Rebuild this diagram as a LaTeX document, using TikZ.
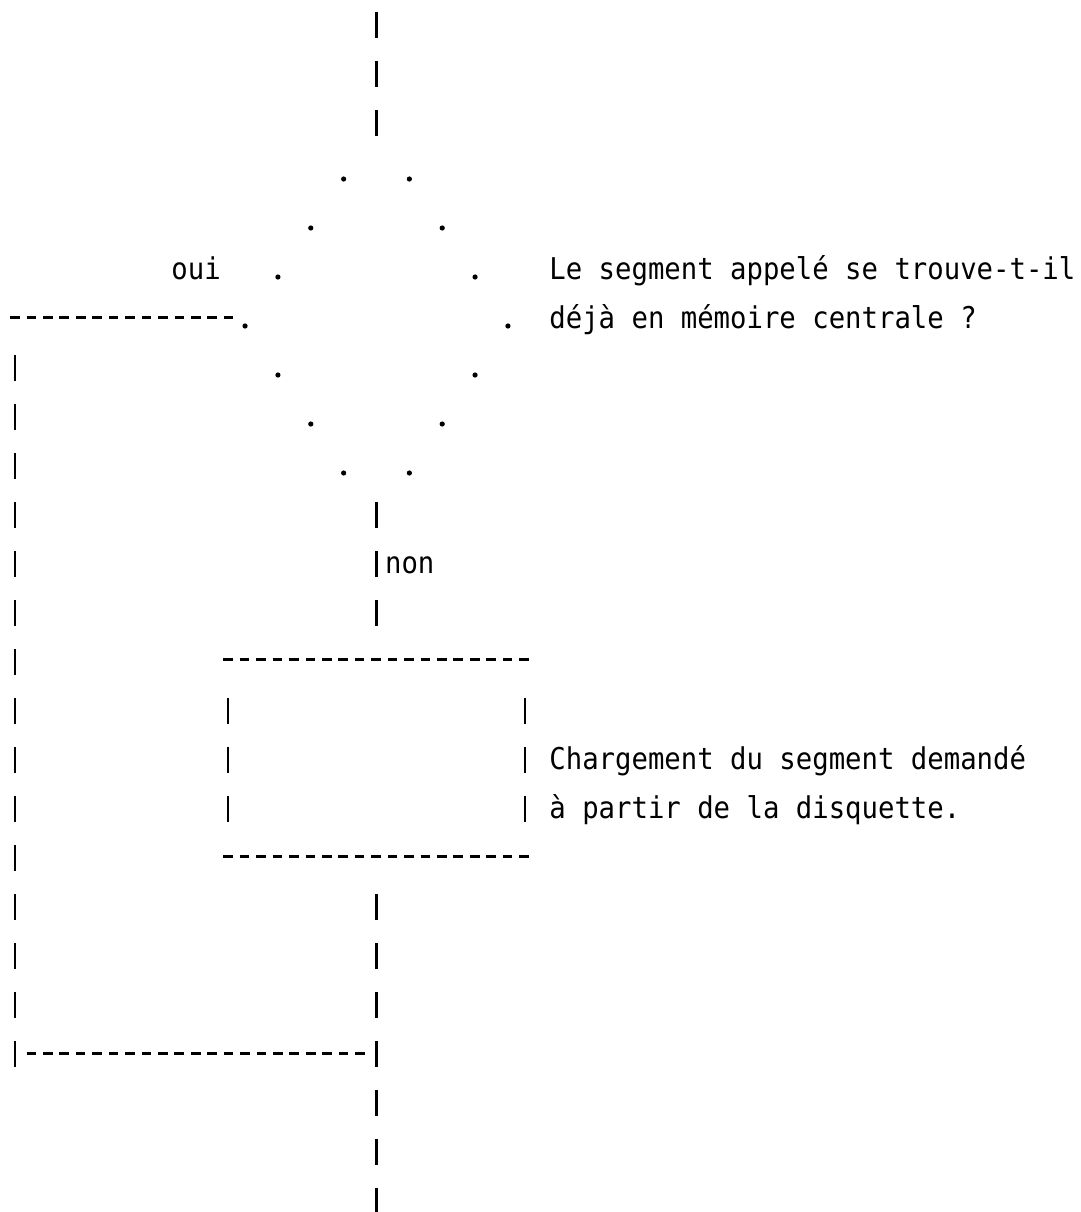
\documentclass[tikz,border=0pt]{standalone}
\usepackage{fontspec}
\newfontfamily\typew[FakeStretch=0.91]{DejaVu Sans Mono}
\usetikzlibrary{calc}

\begin{document}
\begin{tikzpicture}[x=0.5pt,y=-0.5pt]
	% `vbar' is a column of typed |, `hrule' a row of typed -.
	% `tdot' is one typed full stop of the decision outline.
	\tikzstyle{vbar} = [line width=1.1pt,dash pattern=on 13pt off 11.5pt]
	\tikzstyle{hrule} = [line width=1.5pt,dash pattern=on 4.8pt off 3.415pt,dash phase=-0.35pt]
	\tikzstyle{tdot} = [fill,shape=circle,minimum size=2.6pt,inner sep=0pt]
	\tikzstyle{typed} = [font={\typew\fontsize{15}{18}\selectfont},anchor=base west,inner sep=0pt]
	\useasboundingbox (0,0) rectangle (1081,1212);
	%
	% Decision, drawn as typed dots.
	\foreach \dx/\r in {2/3,4/4,6/5,8/6,6/7,4/8,2/9} {
		\node[tdot] (dl\r) at ({376.5-\dx*16.43},{32+49*\r}) {};
		\node[tdot] (dr\r) at ({376.5+\dx*16.43},{32+49*\r}) {};
	}
	\coordinate (entry) at (376.5,12);
	\coordinate (q-n) at (376.5,137);
	\coordinate (q-s) at (376.5,502);
	\coordinate (q-w) at (234.1,317);
	\node[typed] (oui) at (171,279) {oui};
	\node[typed] (ask1) at (549,279) {Le segment appelé se trouve-t-il};
	\node[typed] (ask2) at (549,328) {déjà en mémoire centrale ?};
	\node[typed] (non) at (384.7,573) {non};
	%
	% Loading box.
	\node[minimum width=153.35pt,minimum height=98pt,inner sep=0pt] (load) at (376.5,758) {};
	\draw[hrule] (load.north west) -- (load.north east);
	\draw[hrule] (load.south west) -- (load.south east);
	\draw[vbar] ($(load.north west)+(5.5,38)$) -- ($(load.south west)+(5.5,-34)$);
	\draw[vbar] ($(load.north east)+(-5.5,38)$) -- ($(load.south east)+(-5.5,-34)$);
	\node[typed] (do1) at (549,769) {Chargement du segment demandé};
	\node[typed] (do2) at (549,818) {à partir de la disquette.};
	%
	% Lines.
	\coordinate (yes-a) at (9.5,317);
	\coordinate (yes-b) at (15,355);
	\coordinate (yes-c) at (15,1067);
	\coordinate (yes-d) at (25.9,1053);
	\coordinate (join) at (365,1053);
	\coordinate (exit) at (376.5,1212);
	\draw[vbar] (entry) -- (q-n);
	\draw[vbar] (q-s) -- ($(load.north)+(0,-33)$);
	\draw[vbar] ($(load.south)+(0,38)$) -- (exit);
	\draw[hrule] (yes-a) -- (q-w);
	\draw[vbar] (yes-b) -- (yes-c);
	\draw[hrule] (yes-d) -- (join);
\end{tikzpicture}
\end{document}
